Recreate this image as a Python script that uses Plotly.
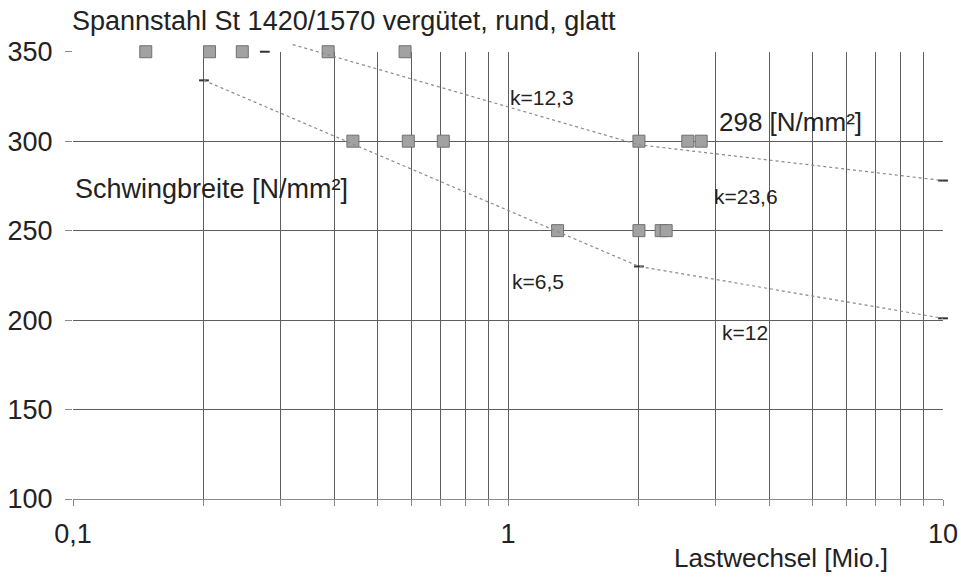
import math
import plotly.graph_objects as go

# Versuchsergebnisse: Lastwechsel [Mio.] je Schwingbreite [N/mm²]
n_350 = [0.147, 0.206, 0.245, 0.386, 0.58]
s_350 = [350, 350, 350, 350, 350]
n_300 = [0.44, 0.59, 0.71, 2.0, 2.59, 2.78]
s_300 = [300, 300, 300, 300, 300, 300]
n_250 = [1.3, 2.0, 2.25, 2.31]
s_250 = [250, 250, 250, 250]

# Wöhlerlinien (obere: k=12,3 / k=23,6; untere: k=6,5 / k=12)
upper_n = [0.32, 2.0, 10.0]
upper_s = [354, 298, 278]
lower_n = [0.2, 2.0, 10.0]
lower_s = [334, 230, 201]

# Eckpunkte der Linien
knick_n = [0.276, 0.2, 2.0, 10.0, 10.0]
knick_s = [350, 334, 230, 278, 201]

x_tickvals = [0.1, 0.2, 0.3, 0.4, 0.5, 0.6, 0.7, 0.8, 0.9,
              1, 2, 3, 4, 5, 6, 7, 8, 9, 10]
x_ticktext = ["0,1", "", "", "", "", "", "", "", "",
              "1", "", "", "", "", "", "", "", "", "10"]
y_tickvals = [100, 150, 200, 250, 300, 350]

FONT = "Liberation Sans, Arial, sans-serif"
TXT = "#222222"
GRID = "#5e5e5e"

# Diagrammfläche in Pixeln
PLOT_TOP, PLOT_BOTTOM = 52, 499
Y_MIN, Y_MAX = 100, 350
PX_PER_UNIT = (PLOT_BOTTOM - PLOT_TOP) / (Y_MAX - Y_MIN)
# Zweite (unsichtbare) Achse mit etwas Luft über 350 für die Linien
Y2_MAX = 356
TOP_MARGIN = PLOT_TOP - (Y2_MAX - Y_MAX) * PX_PER_UNIT
MAIN_DOMAIN_TOP = (PLOT_BOTTOM - PLOT_TOP) / (PLOT_BOTTOM - TOP_MARGIN)

fig = go.Figure()

line_style = dict(color="#8a8a8a", width=1.2, dash="dot")
fig.add_trace(go.Scatter(x=upper_n, y=upper_s, mode="lines", line=line_style,
                         hoverinfo="skip", xaxis="x2", yaxis="y2"))
fig.add_trace(go.Scatter(x=lower_n, y=lower_s, mode="lines", line=line_style,
                         hoverinfo="skip", xaxis="x2", yaxis="y2"))
fig.add_trace(go.Scatter(x=knick_n, y=knick_s, mode="markers",
                         marker=dict(symbol="line-ew", size=7,
                                     line=dict(color="#333333", width=2)),
                         cliponaxis=False))

square = dict(symbol="square", size=12, color="#a2a2a2",
              line=dict(color="#707070", width=1))
for xs, ys in [(n_350, s_350), (n_300, s_300), (n_250, s_250)]:
    fig.add_trace(go.Scatter(x=xs, y=ys, mode="markers", marker=square,
                             cliponaxis=False))


def label(x, y, text, size):
    fig.add_annotation(x=math.log10(x), y=y, xref="x", yref="y", text=text,
                       showarrow=False, xanchor="left", yanchor="middle",
                       font=dict(family=FONT, size=size, color=TXT))


label(1.0, 324.3, "k=12,3", 21)
label(3.03, 310.9, "298 [N/mm²]", 26)
label(2.95, 268.9, "k=23,6", 21)
label(1.01, 221.4, "k=6,5", 21)
label(3.07, 192.8, "k=12", 21)

fig.add_annotation(x=0, y=273, xref="paper", yref="y",
                   text="Schwingbreite [N/mm²]", showarrow=False,
                   xanchor="left", yanchor="middle",
                   font=dict(family=FONT, size=27, color=TXT))

plot_h = PLOT_BOTTOM - TOP_MARGIN
fig.add_annotation(x=(672 - 72.5) / 870.5, y=(PLOT_BOTTOM - 558) / plot_h,
                   xref="paper", yref="paper", text="Lastwechsel [Mio.]",
                   showarrow=False, xanchor="left", yanchor="middle",
                   font=dict(family=FONT, size=26, color=TXT))

fig.update_layout(
    width=961, height=580,
    margin=dict(l=72.5, r=18, t=TOP_MARGIN, b=580 - PLOT_BOTTOM,
                autoexpand=False),
    paper_bgcolor="white", plot_bgcolor="rgba(0,0,0,0)",
    showlegend=False,
    title=dict(text="Spannstahl St 1420/1570 vergütet, rund, glatt",
               x=72 / 961, xanchor="left", xref="container",
               y=1 - 21 / 580, yanchor="middle", yref="container",
               font=dict(family=FONT, size=27, color=TXT)),
    xaxis=dict(type="log", range=[-1, 1], tickvals=x_tickvals,
               ticktext=x_ticktext, showgrid=True, gridcolor=GRID,
               gridwidth=1, showline=True, linecolor="#8a8a8a",
               mirror=False, ticks="outside", ticklen=6,
               tickcolor="#8a8a8a", ticklabelstandoff=5,
               tickfont=dict(family=FONT, size=27, color=TXT),
               zeroline=False, automargin=False),
    yaxis=dict(range=[Y_MIN, Y_MAX], domain=[0, MAIN_DOMAIN_TOP],
               tickvals=y_tickvals, showgrid=True,
               gridcolor=GRID, gridwidth=1, showline=False,
               ticks="outside", ticklen=7, tickcolor="#8a8a8a",
               ticklabelstandoff=7,
               tickfont=dict(family=FONT, size=27, color=TXT),
               zeroline=False, automargin=False),
    xaxis2=dict(type="log", range=[-1, 1], anchor="y2", visible=False,
                showgrid=False, zeroline=False),
    yaxis2=dict(range=[Y_MIN, Y2_MAX], domain=[0, 1], anchor="x2",
                visible=False, showgrid=False, zeroline=False),
)

fig.write_html("out.html")
